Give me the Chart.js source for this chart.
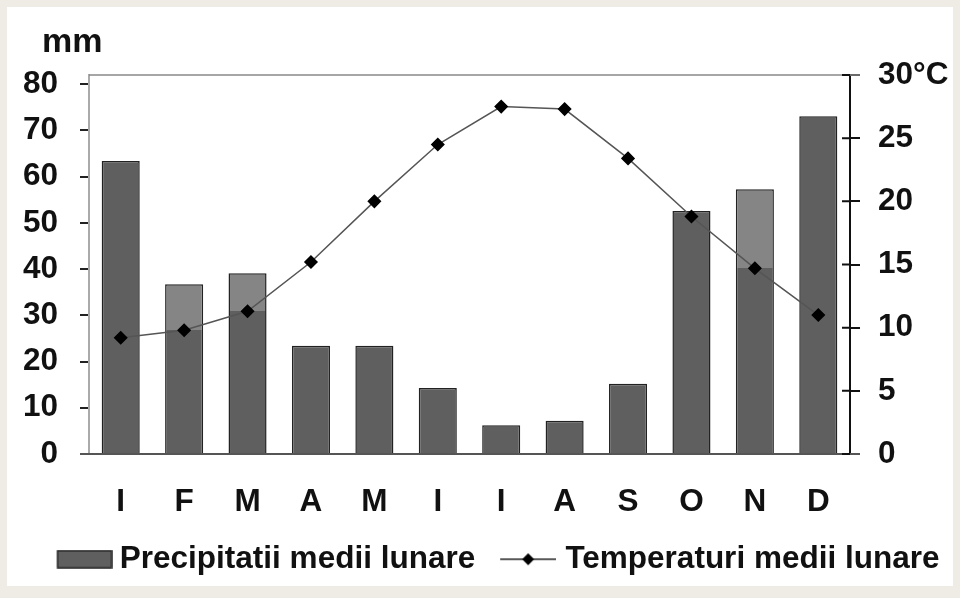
<!DOCTYPE html>
<html>
<head>
<meta charset="utf-8">
<script src="https://cdn.jsdelivr.net/npm/chart.js@4"></script>
<style>
  body { margin: 0; background: #efece6; }
  #panel { position: absolute; left: 7px; top: 7px; width: 946px; height: 579px; background: #fff; }
</style>
</head>
<body>
<div id="panel"><canvas id="grafic" width="946" height="579"></canvas></div>
<script>
// Date climatice
const luni = ['I', 'F', 'M', 'A', 'M', 'I', 'I', 'A', 'S', 'O', 'N', 'D'];
const precipitatii = [63.4, 36.7, 39.1, 23.4, 23.4, 14.3, 6.2, 7.2, 15.2, 52.6, 57.3, 73.1];
const temperaturi = [9.2, 9.8, 11.3, 15.2, 20.0, 24.5, 27.5, 27.3, 23.4, 18.8, 14.7, 11.0];
const ticksMm = [0, 10, 20, 30, 40, 50, 60, 70, 80];
const ticksGrade = [0, 5, 10, 15, 20, 25, 30];
// barele care apar mai deschise deasupra liniei (F, M, N)
const bareDeschise = [1, 2, 10];

const familie = '"Liberation Sans", Arial, sans-serif';
const font = { family: familie, size: 31.5, weight: 'bold' };
const gri = '#5f5f5f';
const griDeschis = '#858585';

function culoareBara(c) {
    const chart = c.chart, a = chart.chartArea;
    if (!a || !bareDeschise.includes(c.dataIndex)) return gri;
    const yLinie = chart.scales.y1.getPixelForValue(temperaturi[c.dataIndex]);
    const f = Math.min(Math.max((yLinie - a.top) / (a.bottom - a.top), 0), 1);
    const g = chart.ctx.createLinearGradient(0, a.top, 0, a.bottom);
    g.addColorStop(0, griDeschis);
    g.addColorStop(f, griDeschis);
    g.addColorStop(f, gri);
    g.addColorStop(1, gri);
    return g;
}

// swatch-uri pentru legenda (marginea stanga transparenta)
function swatchBara() {
    const c = document.createElement('canvas');
    c.width = 77; c.height = 19;
    const g = c.getContext('2d');
    g.fillStyle = gri;
    g.fillRect(22, 1, 54, 17);
    g.strokeStyle = '#222';
    g.lineWidth = 1.5;
    g.strokeRect(22, 1, 54, 17);
    return c;
}
function swatchLinie() {
    const c = document.createElement('canvas');
    c.width = 73; c.height = 16;
    const g = c.getContext('2d');
    g.strokeStyle = '#222';
    g.lineWidth = 1.5;
    g.beginPath(); g.moveTo(17, 8); g.lineTo(73, 8); g.stroke();
    g.fillStyle = '#000';
    g.beginPath(); g.moveTo(45, 2); g.lineTo(51, 8); g.lineTo(45, 14); g.lineTo(39, 8); g.closePath(); g.fill();
    return c;
}

// cadrul: linia de sus, prelungirea axei x, liniutele din dreapta si "mm"
const cadru = {
    id: 'cadru',
    afterDraw(chart) {
        const a = chart.chartArea, ctx = chart.ctx;
        const y1 = chart.scales.y1;
        ctx.save();
        ctx.strokeStyle = '#888';
        ctx.lineWidth = 1.5;
        ctx.beginPath();
        ctx.moveTo(a.left, a.top);
        ctx.lineTo(a.right + 10, a.top);
        ctx.stroke();

        ctx.strokeStyle = '#555';
        ctx.lineWidth = 2;
        ctx.beginPath();
        ctx.moveTo(a.left - 9, a.bottom);
        ctx.lineTo(a.right + 10, a.bottom);
        ctx.stroke();

        ctx.strokeStyle = '#111';
        ctx.beginPath();
        y1.ticks.forEach(t => {
            const y = y1.getPixelForValue(t.value);
            ctx.moveTo(a.right - 8, y);
            ctx.lineTo(a.right, y);
        });
        ctx.stroke();

        ctx.fillStyle = '#111';
        ctx.font = 'bold 34px ' + familie;
        ctx.textBaseline = 'alphabetic';
        ctx.fillText('mm', a.left - 47, a.top - 23);
        ctx.restore();
    }
};

const ctx = document.getElementById('grafic').getContext('2d');
const grafic = new Chart(ctx, {
    type: 'bar',
    data: {
        labels: luni,
        datasets: [{
            label: 'Precipitatii medii lunare',
            data: precipitatii,
            backgroundColor: culoareBara,
            borderColor: '#222',
            borderWidth: 1.5,
            barPercentage: 0.6,
            categoryPercentage: 1,
            yAxisID: 'y',
            order: 2
        }, {
            type: 'line',
            label: 'Temperaturi medii lunare',
            data: temperaturi,
            borderColor: '#555',
            borderWidth: 1.5,
            pointStyle: 'rectRot',
            pointRadius: 6,
            pointBackgroundColor: '#000',
            pointBorderColor: '#000',
            tension: 0,
            yAxisID: 'y1',
            order: 1
        }]
    },
    options: {
        responsive: false,
        animation: false,
        layout: { padding: { left: 0, right: -23.5, top: 68, bottom: 1 } },
        plugins: {
            tooltip: { enabled: false },
            legend: {
                position: 'bottom',
                labels: {
                    usePointStyle: true,
                    pointStyleWidth: 60,
                    padding: 14.5,
                    color: '#111',
                    font: font,
                    generateLabels(chart) {
                        return chart.data.datasets.map((ds, i) => ({
                            text: ds.label,
                            pointStyle: i === 0 ? swatchBara() : swatchLinie(),
                            datasetIndex: i,
                            hidden: false,
                            lineWidth: 0,
                            fontColor: '#111'
                        }));
                    }
                }
            }
        },
        scales: {
            x: {
                grid: { display: false, drawTicks: false },
                border: { color: '#555', width: 2 },
                ticks: { color: '#111', font: font, padding: 29 },
                afterFit(s) { s.height = 75; }
            },
            y: {
                position: 'left',
                min: 0,
                max: 82,
                ticks: { color: '#111', font: font, padding: 22 },
                afterBuildTicks(s) { s.ticks = ticksMm.map(v => ({ value: v })); },
                grid: { drawOnChartArea: false, tickLength: 9, color: '#222', lineWidth: 2 },
                border: { color: '#aaa', width: 2 },
                afterFit(s) { s.width = 82; }
            },
            y1: {
                position: 'right',
                min: 0,
                max: 30,
                ticks: {
                    color: '#111',
                    font: font,
                    padding: 18,
                    callback: v => v === 30 ? '30°C' : v
                },
                afterBuildTicks(s) { s.ticks = ticksGrade.map(v => ({ value: v })); },
                grid: { drawOnChartArea: false, tickLength: 10, color: '#111', lineWidth: 2 },
                border: { color: '#111', width: 2 },
                afterFit(s) { s.width = 126.5; }
            }
        }
    },
    plugins: [cadru]
});
</script>
</body>
</html>
